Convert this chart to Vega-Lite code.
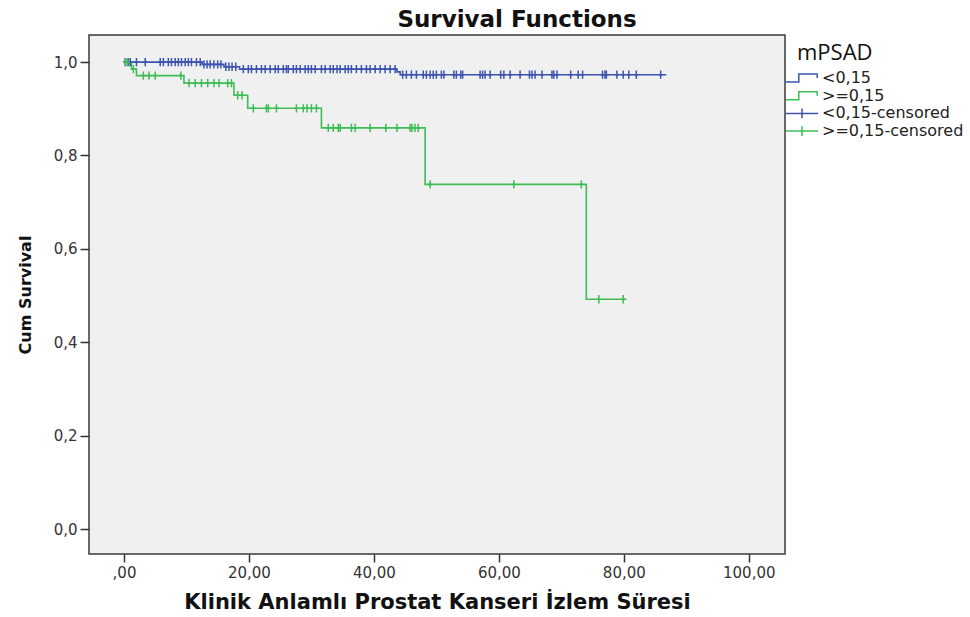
{
  "$schema": "https://vega.github.io/schema/vega-lite/v6.json",
  "autosize": "none",
  "width": 696,
  "height": 519,
  "padding": {"left": 89, "top": 35, "right": 185, "bottom": 63},
  "background": "white",
  "config": {
    "view": {"fill": "#f0f0f0", "stroke": "#3a3a3a", "strokeWidth": 1.5},
    "font": "DejaVu Sans"
  },
  "title": {
    "text": "Survival Functions",
    "fontSize": 23,
    "fontWeight": "bold",
    "color": "#111111",
    "anchor": "middle",
    "dx": 80,
    "offset": 3,
    "font": "DejaVu Sans"
  },
  "datasets": {
    "curves": [
      {"group": "<0,15", "t": 0, "s": 1.0},
      {"group": "<0,15", "t": 12.5, "s": 0.995},
      {"group": "<0,15", "t": 16.0, "s": 0.99},
      {"group": "<0,15", "t": 18.5, "s": 0.985},
      {"group": "<0,15", "t": 43.7, "s": 0.979},
      {"group": "<0,15", "t": 44.2, "s": 0.973},
      {"group": "<0,15", "t": 86.8, "s": 0.973},
      {"group": ">=0,15", "t": 0, "s": 1.0},
      {"group": ">=0,15", "t": 1.2, "s": 0.985},
      {"group": ">=0,15", "t": 2.0, "s": 0.971},
      {"group": ">=0,15", "t": 9.6, "s": 0.955},
      {"group": ">=0,15", "t": 17.6, "s": 0.929},
      {"group": ">=0,15", "t": 19.8, "s": 0.901},
      {"group": ">=0,15", "t": 31.6, "s": 0.859},
      {"group": ">=0,15", "t": 48.2, "s": 0.738},
      {"group": ">=0,15", "t": 74.0, "s": 0.492},
      {"group": ">=0,15", "t": 80.4, "s": 0.492}
    ],
    "censored": [
      {"group": "<0,15-censored", "t": 0.2, "s": 1.0},
      {"group": "<0,15-censored", "t": 0.7, "s": 1.0},
      {"group": "<0,15-censored", "t": 1.0, "s": 1.0},
      {"group": "<0,15-censored", "t": 2.0, "s": 1.0},
      {"group": "<0,15-censored", "t": 3.4, "s": 1.0},
      {"group": "<0,15-censored", "t": 5.8, "s": 1.0},
      {"group": "<0,15-censored", "t": 6.3, "s": 1.0},
      {"group": "<0,15-censored", "t": 7.1, "s": 1.0},
      {"group": "<0,15-censored", "t": 7.6, "s": 1.0},
      {"group": "<0,15-censored", "t": 8.2, "s": 1.0},
      {"group": "<0,15-censored", "t": 8.7, "s": 1.0},
      {"group": "<0,15-censored", "t": 9.2, "s": 1.0},
      {"group": "<0,15-censored", "t": 9.8, "s": 1.0},
      {"group": "<0,15-censored", "t": 10.3, "s": 1.0},
      {"group": "<0,15-censored", "t": 10.8, "s": 1.0},
      {"group": "<0,15-censored", "t": 11.6, "s": 1.0},
      {"group": "<0,15-censored", "t": 12.2, "s": 1.0},
      {"group": "<0,15-censored", "t": 12.8, "s": 0.995},
      {"group": "<0,15-censored", "t": 13.3, "s": 0.995},
      {"group": "<0,15-censored", "t": 13.8, "s": 0.995},
      {"group": "<0,15-censored", "t": 14.4, "s": 0.995},
      {"group": "<0,15-censored", "t": 15.0, "s": 0.995},
      {"group": "<0,15-censored", "t": 15.5, "s": 0.995},
      {"group": "<0,15-censored", "t": 16.3, "s": 0.99},
      {"group": "<0,15-censored", "t": 16.8, "s": 0.99},
      {"group": "<0,15-censored", "t": 17.3, "s": 0.99},
      {"group": "<0,15-censored", "t": 17.9, "s": 0.99},
      {"group": "<0,15-censored", "t": 19.1, "s": 0.985},
      {"group": "<0,15-censored", "t": 19.9, "s": 0.985},
      {"group": "<0,15-censored", "t": 20.4, "s": 0.985},
      {"group": "<0,15-censored", "t": 21.2, "s": 0.985},
      {"group": "<0,15-censored", "t": 22.0, "s": 0.985},
      {"group": "<0,15-censored", "t": 22.6, "s": 0.985},
      {"group": "<0,15-censored", "t": 23.4, "s": 0.985},
      {"group": "<0,15-censored", "t": 24.2, "s": 0.985},
      {"group": "<0,15-censored", "t": 24.7, "s": 0.985},
      {"group": "<0,15-censored", "t": 25.5, "s": 0.985},
      {"group": "<0,15-censored", "t": 26.0, "s": 0.985},
      {"group": "<0,15-censored", "t": 26.3, "s": 0.985},
      {"group": "<0,15-censored", "t": 27.1, "s": 0.985},
      {"group": "<0,15-censored", "t": 27.6, "s": 0.985},
      {"group": "<0,15-censored", "t": 28.2, "s": 0.985},
      {"group": "<0,15-censored", "t": 29.0, "s": 0.985},
      {"group": "<0,15-censored", "t": 29.5, "s": 0.985},
      {"group": "<0,15-censored", "t": 30.0, "s": 0.985},
      {"group": "<0,15-censored", "t": 30.6, "s": 0.985},
      {"group": "<0,15-censored", "t": 31.6, "s": 0.985},
      {"group": "<0,15-censored", "t": 32.2, "s": 0.985},
      {"group": "<0,15-censored", "t": 33.0, "s": 0.985},
      {"group": "<0,15-censored", "t": 33.5, "s": 0.985},
      {"group": "<0,15-censored", "t": 34.1, "s": 0.985},
      {"group": "<0,15-censored", "t": 34.6, "s": 0.985},
      {"group": "<0,15-censored", "t": 35.4, "s": 0.985},
      {"group": "<0,15-censored", "t": 35.9, "s": 0.985},
      {"group": "<0,15-censored", "t": 36.4, "s": 0.985},
      {"group": "<0,15-censored", "t": 37.2, "s": 0.985},
      {"group": "<0,15-censored", "t": 38.0, "s": 0.985},
      {"group": "<0,15-censored", "t": 38.8, "s": 0.985},
      {"group": "<0,15-censored", "t": 39.4, "s": 0.985},
      {"group": "<0,15-censored", "t": 40.2, "s": 0.985},
      {"group": "<0,15-censored", "t": 41.0, "s": 0.985},
      {"group": "<0,15-censored", "t": 41.8, "s": 0.985},
      {"group": "<0,15-censored", "t": 42.6, "s": 0.985},
      {"group": "<0,15-censored", "t": 43.4, "s": 0.985},
      {"group": "<0,15-censored", "t": 44.6, "s": 0.973},
      {"group": "<0,15-censored", "t": 45.2, "s": 0.973},
      {"group": "<0,15-censored", "t": 46.0, "s": 0.973},
      {"group": "<0,15-censored", "t": 46.8, "s": 0.973},
      {"group": "<0,15-censored", "t": 47.9, "s": 0.973},
      {"group": "<0,15-censored", "t": 48.4, "s": 0.973},
      {"group": "<0,15-censored", "t": 49.0, "s": 0.973},
      {"group": "<0,15-censored", "t": 49.5, "s": 0.973},
      {"group": "<0,15-censored", "t": 50.0, "s": 0.973},
      {"group": "<0,15-censored", "t": 50.8, "s": 0.973},
      {"group": "<0,15-censored", "t": 51.2, "s": 0.973},
      {"group": "<0,15-censored", "t": 52.8, "s": 0.973},
      {"group": "<0,15-censored", "t": 53.2, "s": 0.973},
      {"group": "<0,15-censored", "t": 53.9, "s": 0.973},
      {"group": "<0,15-censored", "t": 54.2, "s": 0.973},
      {"group": "<0,15-censored", "t": 57.0, "s": 0.973},
      {"group": "<0,15-censored", "t": 57.4, "s": 0.973},
      {"group": "<0,15-censored", "t": 57.8, "s": 0.973},
      {"group": "<0,15-censored", "t": 58.6, "s": 0.973},
      {"group": "<0,15-censored", "t": 60.3, "s": 0.973},
      {"group": "<0,15-censored", "t": 60.8, "s": 0.973},
      {"group": "<0,15-censored", "t": 61.8, "s": 0.973},
      {"group": "<0,15-censored", "t": 63.4, "s": 0.973},
      {"group": "<0,15-censored", "t": 64.9, "s": 0.973},
      {"group": "<0,15-censored", "t": 65.3, "s": 0.973},
      {"group": "<0,15-censored", "t": 65.8, "s": 0.973},
      {"group": "<0,15-censored", "t": 66.9, "s": 0.973},
      {"group": "<0,15-censored", "t": 68.5, "s": 0.973},
      {"group": "<0,15-censored", "t": 68.8, "s": 0.973},
      {"group": "<0,15-censored", "t": 69.3, "s": 0.973},
      {"group": "<0,15-censored", "t": 71.5, "s": 0.973},
      {"group": "<0,15-censored", "t": 72.7, "s": 0.973},
      {"group": "<0,15-censored", "t": 73.4, "s": 0.973},
      {"group": "<0,15-censored", "t": 76.6, "s": 0.973},
      {"group": "<0,15-censored", "t": 77.0, "s": 0.973},
      {"group": "<0,15-censored", "t": 77.2, "s": 0.973},
      {"group": "<0,15-censored", "t": 78.9, "s": 0.973},
      {"group": "<0,15-censored", "t": 79.9, "s": 0.973},
      {"group": "<0,15-censored", "t": 80.8, "s": 0.973},
      {"group": "<0,15-censored", "t": 82.0, "s": 0.973},
      {"group": "<0,15-censored", "t": 85.9, "s": 0.973},
      {"group": ">=0,15-censored", "t": 0.3, "s": 1.0},
      {"group": ">=0,15-censored", "t": 0.6, "s": 1.0},
      {"group": ">=0,15-censored", "t": 1.5, "s": 0.985},
      {"group": ">=0,15-censored", "t": 3.1, "s": 0.971},
      {"group": ">=0,15-censored", "t": 4.0, "s": 0.971},
      {"group": ">=0,15-censored", "t": 5.0, "s": 0.971},
      {"group": ">=0,15-censored", "t": 9.1, "s": 0.971},
      {"group": ">=0,15-censored", "t": 10.4, "s": 0.955},
      {"group": ">=0,15-censored", "t": 11.4, "s": 0.955},
      {"group": ">=0,15-censored", "t": 12.4, "s": 0.955},
      {"group": ">=0,15-censored", "t": 13.4, "s": 0.955},
      {"group": ">=0,15-censored", "t": 14.4, "s": 0.955},
      {"group": ">=0,15-censored", "t": 15.2, "s": 0.955},
      {"group": ">=0,15-censored", "t": 16.6, "s": 0.955},
      {"group": ">=0,15-censored", "t": 17.2, "s": 0.955},
      {"group": ">=0,15-censored", "t": 18.2, "s": 0.929},
      {"group": ">=0,15-censored", "t": 18.9, "s": 0.929},
      {"group": ">=0,15-censored", "t": 20.7, "s": 0.901},
      {"group": ">=0,15-censored", "t": 22.8, "s": 0.901},
      {"group": ">=0,15-censored", "t": 23.1, "s": 0.901},
      {"group": ">=0,15-censored", "t": 24.4, "s": 0.901},
      {"group": ">=0,15-censored", "t": 27.6, "s": 0.901},
      {"group": ">=0,15-censored", "t": 28.7, "s": 0.901},
      {"group": ">=0,15-censored", "t": 29.3, "s": 0.901},
      {"group": ">=0,15-censored", "t": 30.0, "s": 0.901},
      {"group": ">=0,15-censored", "t": 30.8, "s": 0.901},
      {"group": ">=0,15-censored", "t": 32.7, "s": 0.859},
      {"group": ">=0,15-censored", "t": 33.5, "s": 0.859},
      {"group": ">=0,15-censored", "t": 34.3, "s": 0.859},
      {"group": ">=0,15-censored", "t": 34.6, "s": 0.859},
      {"group": ">=0,15-censored", "t": 36.4, "s": 0.859},
      {"group": ">=0,15-censored", "t": 37.0, "s": 0.859},
      {"group": ">=0,15-censored", "t": 39.4, "s": 0.859},
      {"group": ">=0,15-censored", "t": 41.9, "s": 0.859},
      {"group": ">=0,15-censored", "t": 43.7, "s": 0.859},
      {"group": ">=0,15-censored", "t": 45.8, "s": 0.859},
      {"group": ">=0,15-censored", "t": 46.1, "s": 0.859},
      {"group": ">=0,15-censored", "t": 46.6, "s": 0.859},
      {"group": ">=0,15-censored", "t": 47.1, "s": 0.859},
      {"group": ">=0,15-censored", "t": 49.0, "s": 0.738},
      {"group": ">=0,15-censored", "t": 62.4, "s": 0.738},
      {"group": ">=0,15-censored", "t": 73.2, "s": 0.738},
      {"group": ">=0,15-censored", "t": 76.0, "s": 0.492},
      {"group": ">=0,15-censored", "t": 79.9, "s": 0.492}
    ]
  },
  "encoding": {
    "x": {
      "field": "t",
      "type": "quantitative",
      "scale": {"domain": [-5.6, 105.8], "nice": false, "zero": false},
      "axis": {
        "title": "Klinik Anlamlı Prostat Kanseri İzlem Süresi",
        "titleFont": "DejaVu Sans",
        "titleFontSize": 21,
        "titleFontWeight": "bold",
        "titleColor": "#111111",
        "titlePadding": 11,
        "values": [0, 20, 40, 60, 80, 100],
        "labelExpr": "datum.value == 0 ? ',00' : replace(format(datum.value, '.2f'), '.', ',')",
        "labelFont": "DejaVu Sans",
        "labelFontSize": 15,
        "labelColor": "#333333",
        "labelPadding": 3,
        "labelFlush": false,
        "tickSize": 8,
        "tickColor": "#333333",
        "tickWidth": 1.5,
        "domain": false,
        "grid": false
      }
    },
    "y": {
      "field": "s",
      "type": "quantitative",
      "scale": {"domain": [-0.0535, 1.058], "nice": false, "zero": false},
      "axis": {
        "title": "Cum Survival",
        "titleFont": "DejaVu Sans",
        "titleFontSize": 16,
        "titleFontWeight": "bold",
        "titleColor": "#111111",
        "titlePadding": 20,
        "values": [0, 0.2, 0.4, 0.6, 0.8, 1.0],
        "labelExpr": "replace(format(datum.value, '.1f'), '.', ',')",
        "labelFont": "DejaVu Sans",
        "labelFontSize": 15,
        "labelColor": "#333333",
        "labelPadding": 3,
        "labelFlush": false,
        "tickSize": 9,
        "tickColor": "#333333",
        "tickWidth": 1.5,
        "domain": false,
        "grid": false
      }
    },
    "color": {
      "field": "group",
      "type": "nominal",
      "scale": {
        "domain": ["<0,15", ">=0,15", "<0,15-censored", ">=0,15-censored"],
        "range": ["#3c54b0", "#3dbd55", "#3c54b0", "#3dbd55"]
      },
      "legend": {
        "title": "mPSAD",
        "orient": "none",
        "legendX": 704,
        "legendY": 8,
        "padding": 0,
        "titleFont": "Open Sans",
        "titleFontSize": 22,
        "titleFontWeight": "normal",
        "titleColor": "#111111",
        "titlePadding": 4,
        "labelFont": "DejaVu Sans",
        "labelFontSize": 16,
        "labelColor": "#222222",
        "labelOffset": 11,
        "symbolSize": 256,
        "symbolStrokeWidth": 1.5,
        "rowPadding": 0.7,
        "encode": {
          "title": {"update": {"dx": {"value": 4}}},
          "symbols": {
            "update": {
              "shape": {"signal": "test(/censored/, datum.value) ? 'M-2,0H2M0,-0.6V0.6' : 'M-2,0.5H-0.4V-0.5H1.9V0'"},
              "fill": {"value": "transparent"},
              "strokeWidth": {"value": 1.5}
            }
          }
        }
      }
    }
  },
  "layer": [
    {
      "data": {"name": "curves"},
      "mark": {"type": "line", "interpolate": "step-after", "strokeWidth": 1.6}
    },
    {
      "data": {"name": "censored"},
      "mark": {"type": "point", "shape": "M0,-1V1M-0.5,0H0.5", "size": 70, "filled": false, "strokeWidth": 1.5, "opacity": 1}
    }
  ]
}
